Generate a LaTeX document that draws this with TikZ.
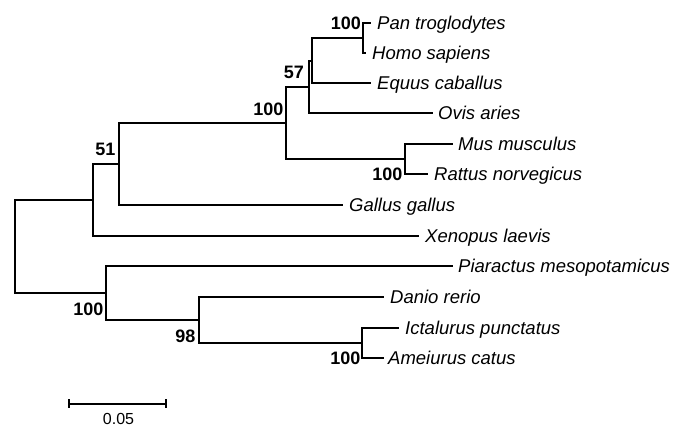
\documentclass[tikz,border=0pt]{standalone}
\usepackage{fontspec}
\setmainfont{Liberation Sans}
\begin{document}
\begin{tikzpicture}[x=1pt,y=-1pt,
  branch/.style={line width=2.4pt,line join=miter,line cap=rect},
  leaf/.style={anchor=base west,inner sep=0pt,font=\fontsize{18.5}{22}\selectfont\itshape},
  boot/.style={anchor=base east,inner sep=0pt,font=\fontsize{18}{22}\selectfont\bfseries},
  scalebar/.style={line width=1.5pt}]
\useasboundingbox (0,0) rectangle (675,427);
% internal nodes (x, mid y)
\coordinate (R) at (15,246.5);
\coordinate (A) at (93,200);
\coordinate (B) at (119,164);
\coordinate (C) at (286,123);
\coordinate (D) at (309,87);
\coordinate (E) at (312,61);
\coordinate (F) at (363,38);
\coordinate (G) at (405,159);
\coordinate (H) at (106,293);
\coordinate (I) at (199,320);
\coordinate (J) at (362,343);
% tips
\coordinate (tPan) at (370,23);
\coordinate (tHomo) at (365,53);
\coordinate (tEqu) at (370,83);
\coordinate (tOvi) at (432,113);
\coordinate (tMus) at (452,144);
\coordinate (tRat) at (427,174);
\coordinate (tGal) at (342,205);
\coordinate (tXen) at (418,236);
\coordinate (tPia) at (452,266);
\coordinate (tDan) at (383,297);
\coordinate (tIct) at (398,328);
\coordinate (tAme) at (383,358);
% branches
\draw[branch] (R) |- (A);
\draw[branch] (R) |- (H);
\draw[branch] (A) |- (B);
\draw[branch] (A) |- (tXen);
\draw[branch] (B) |- (C);
\draw[branch] (B) |- (tGal);
\draw[branch] (C) |- (D);
\draw[branch] (C) |- (G);
\draw[branch] (D) |- (E);
\draw[branch] (D) |- (tOvi);
\draw[branch] (E) |- (F);
\draw[branch] (E) |- (tEqu);
\draw[branch] (F) |- (tPan);
\draw[branch] (F) |- (tHomo);
\draw[branch] (G) |- (tMus);
\draw[branch] (G) |- (tRat);
\draw[branch] (H) |- (tPia);
\draw[branch] (H) |- (I);
\draw[branch] (I) |- (tDan);
\draw[branch] (I) |- (J);
\draw[branch] (J) |- (tIct);
\draw[branch] (J) |- (tAme);
% leaf labels
\node[leaf] (lPan) at ([xshift=7pt,yshift=-6.4pt]tPan) {Pan troglodytes};
\node[leaf] (lHomo) at ([xshift=7pt,yshift=-6.4pt]tHomo) {Homo sapiens};
\node[leaf] (lEqu) at ([xshift=7pt,yshift=-6.4pt]tEqu) {Equus caballus};
\node[leaf] (lOvi) at ([xshift=6pt,yshift=-6.4pt]tOvi) {Ovis aries};
\node[leaf] (lMus) at ([xshift=6pt,yshift=-6.4pt]tMus) {Mus musculus};
\node[leaf] (lRat) at ([xshift=7pt,yshift=-6.4pt]tRat) {Rattus norvegicus};
\node[leaf] (lGal) at ([xshift=7pt,yshift=-6.4pt]tGal) {Gallus gallus};
\node[leaf] (lXen) at ([xshift=7pt,yshift=-6.4pt]tXen) {Xenopus laevis};
\node[leaf] (lPia) at ([xshift=6pt,yshift=-6.4pt]tPia) {Piaractus mesopotamicus};
\node[leaf] (lDan) at ([xshift=7pt,yshift=-6.4pt]tDan) {Danio rerio};
\node[leaf] (lIct) at ([xshift=7pt,yshift=-6.4pt]tIct) {Ictalurus punctatus};
\node[leaf] (lAme) at ([xshift=5pt,yshift=-6.4pt]tAme) {Ameiurus catus};
% bootstrap values
\node[boot] (bF) at (361,29.5) {100};
\node[boot] (bD) at (304,79) {57};
\node[boot] (bC) at (283.5,115.5) {100};
\node[boot] (bG) at (402.5,181) {100};
\node[boot] (bB) at (115.5,156) {51};
\node[boot] (bH) at (103.5,316) {100};
\node[boot] (bI) at (195.5,343) {98};
\node[boot] (bJ) at (360.5,365) {100};
% scale bar
\coordinate (s1) at (69,404);
\coordinate (s2) at (166,404);
\draw[scalebar] (s1) -- (s2);
\draw[scalebar] ([yshift=4.5pt]s1) -- ([yshift=-4.5pt]s1);
\draw[scalebar] ([yshift=4.5pt]s2) -- ([yshift=-4.5pt]s2);
\node[anchor=base,inner sep=0pt,font=\fontsize{16}{18}\selectfont] (sl) at (118.5,425) {0.05};
\end{tikzpicture}
\end{document}
